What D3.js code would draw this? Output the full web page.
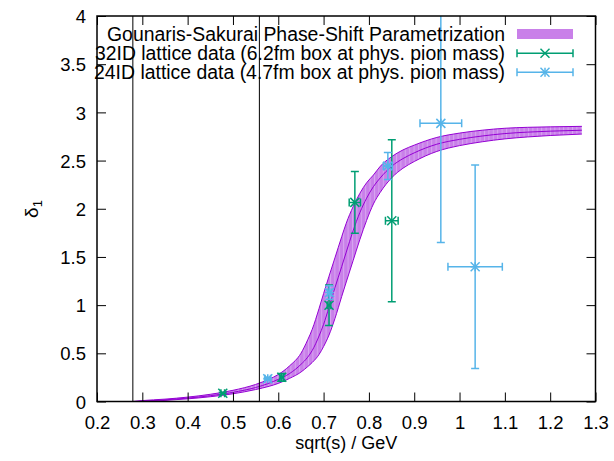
<!DOCTYPE html>
<html><head><meta charset="utf-8">
<script src="https://cdn.jsdelivr.net/npm/d3@7"></script>
<style>html,body{margin:0;padding:0;background:#fff;}svg{display:block;}</style>
</head><body>
<svg id="c" width="614" height="461"></svg>
<script>
// ---- data ----
const bandX     = [0.279,0.30,0.35,0.40,0.45,0.50,0.55,0.58,0.60,0.625,0.65,0.665,0.675,0.69,0.70,0.712,0.725,0.74,0.75,0.765,0.78,0.795,0.81,0.825,0.85,0.875,0.90,0.95,1.00,1.05,1.10,1.15,1.20,1.27];
const bandMid   = [0,0.004,0.017,0.035,0.06,0.095,0.145,0.19,0.23,0.29,0.385,0.46,0.53,0.68,0.80,0.98,1.18,1.40,1.55,1.77,1.96,2.11,2.23,2.32,2.44,2.52,2.58,2.67,2.72,2.755,2.78,2.795,2.805,2.815];
const bandUpper = [0,0.0095,0.0246,0.0455,0.0747,0.116,0.177,0.232,0.28,0.37,0.50,0.64,0.75,0.965,1.12,1.30,1.49,1.71,1.85,2.02,2.16,2.27,2.35,2.44,2.54,2.61,2.66,2.74,2.785,2.815,2.835,2.845,2.85,2.855];
const bandLower = [0,0.0,0.0115,0.0274,0.0495,0.080,0.124,0.158,0.188,0.24,0.305,0.362,0.405,0.488,0.57,0.69,0.86,1.09,1.24,1.46,1.68,1.88,2.05,2.17,2.32,2.42,2.49,2.595,2.655,2.695,2.725,2.745,2.76,2.775];

const d32x  = [0.4775,0.6077,0.712,0.769,0.8505];
const d32y  = [0.085,0.251,0.998,2.066,1.876];
const d32dx = [0.004,0.004,0.004,0.0125,0.014];
const d32dy = [0.012,0.04,0.21,0.32,0.84];

const d24x  = [0.5768,0.713,0.8418,0.9587,1.0344];
const d24y  = [0.237,1.13,2.443,2.886,1.398];
const d24dx = [0.006,0.004,0.01,0.046,0.06];
const d24dy = [0.015,0.07,0.14,1.235,1.056];

const thresholds = [0.2791,0.5583]; // 2 m_pi, 4 m_pi
const xTicks = [0.2,0.3,0.4,0.5,0.6,0.7,0.8,0.9,1.0,1.1,1.2,1.3];
const xTickLabels = ["0.2","0.3","0.4","0.5","0.6","0.7","0.8","0.9","1","1.1","1.2","1.3"];
const yTicks = [0,0.5,1,1.5,2,2.5,3,3.5,4];
const yTickLabels = ["0","0.5","1","1.5","2","2.5","3","3.5","4"];
const legendLabels = ["Gounaris-Sakurai Phase-Shift Parametrization","32ID lattice data (6.2fm box at phys. pion mass)","24ID lattice data (4.7fm box at phys. pion mass)"];

// ---- layout ----
const L=97, R=595.5, T=16, B=401.5;
const FONT = "'Liberation Sans', Arial, Helvetica, sans-serif";
const FS_LEG = 19.5, FS_TICK = 18.5, FS_TITLE = 18;
const cViolet = "#9400d3", cFill = "#c980e9", cGreen = "#009e73", cBlue = "#56b4e9";

const svg = d3.select("#c").style("font-family", FONT);
const x = d3.scaleLinear().domain([0.2,1.3]).range([L,R]);
const y = d3.scaleLinear().domain([0,4]).range([B,T]);

const defs = svg.append("defs");
defs.append("clipPath").attr("id","plotclip").append("rect").attr("x",L).attr("y",T).attr("width",R-L).attr("height",B-T);
const pat = defs.append("pattern").attr("id","stripes").attr("patternUnits","userSpaceOnUse").attr("width",4.4).attr("height",10);
pat.append("rect").attr("width",4.4).attr("height",10).attr("fill",cFill);
pat.append("rect").attr("x",0).attr("width",1).attr("height",10).attr("fill","#d8a6f0");

const band = bandX.map((v,i)=>({x:v,lo:bandLower[i],hi:bandUpper[i],mid:bandMid[i]}));
const g = svg.append("g").attr("clip-path","url(#plotclip)");

// legend (text first so marks pass over it)
const legX = 505, legY = [34,53.3,72.3], legW = [398,410,411];
legendLabels.forEach((t,i)=>{
  svg.append("text").attr("x",legX).attr("y",legY[i]).attr("dy","0.36em")
    .attr("text-anchor","end").attr("font-size",FS_LEG).attr("fill","#000")
    .attr("textLength",legW[i]).attr("lengthAdjust","spacingAndGlyphs").text(t);
});
svg.append("rect").attr("x",517).attr("y",legY[0]-5).attr("width",56).attr("height",10).attr("fill",cFill);

// band
const curve = d3.curveMonotoneX;
g.append("path").datum(band).attr("fill","url(#stripes)")
  .attr("d", d3.area().x(d=>x(d.x)).y0(d=>y(d.lo)).y1(d=>y(d.hi)).curve(curve));
["lo","hi","mid"].forEach(k=>{
  g.append("path").datum(band).attr("fill","none").attr("stroke",cViolet).attr("stroke-width",1)
    .attr("d", d3.line().x(d=>x(d.x)).y(d=>y(d[k])).curve(curve));
});

// data with xy error bars
function errSeries(xs,ys,dxs,dys,color,star){
  const gg = g.append("g").attr("stroke",color).attr("stroke-width",1.5).attr("fill","none");
  const cap = 4;
  xs.forEach((xv,i)=>{
    const cx=x(xv), cy=y(ys[i]);
    const x0=x(xv-dxs[i]), x1=x(xv+dxs[i]);
    const y0=y(ys[i]-dys[i]), y1=y(ys[i]+dys[i]);
    gg.append("line").attr("x1",x0).attr("x2",x1).attr("y1",cy).attr("y2",cy);
    gg.append("line").attr("x1",cx).attr("x2",cx).attr("y1",y0).attr("y2",y1);
    gg.append("line").attr("x1",x0).attr("x2",x0).attr("y1",cy-cap).attr("y2",cy+cap);
    gg.append("line").attr("x1",x1).attr("x2",x1).attr("y1",cy-cap).attr("y2",cy+cap);
    gg.append("line").attr("x1",cx-cap).attr("x2",cx+cap).attr("y1",y0).attr("y2",y0);
    gg.append("line").attr("x1",cx-cap).attr("x2",cx+cap).attr("y1",y1).attr("y2",y1);
    drawPt(gg,cx,cy,star);
  });
}
function drawPt(gg,cx,cy,star){
  const s=4.5;
  gg.append("line").attr("x1",cx-s).attr("x2",cx+s).attr("y1",cy-s).attr("y2",cy+s);
  gg.append("line").attr("x1",cx-s).attr("x2",cx+s).attr("y1",cy+s).attr("y2",cy-s);
  if(star){
    gg.append("line").attr("x1",cx-s).attr("x2",cx+s).attr("y1",cy).attr("y2",cy);
    gg.append("line").attr("x1",cx).attr("x2",cx).attr("y1",cy-s).attr("y2",cy+s);
  }
}
errSeries(d32x,d32y,d32dx,d32dy,cGreen,false);
errSeries(d24x,d24y,d24dx,d24dy,cBlue,true);

// legend samples for error series
[[cGreen,false,legY[1]],[cBlue,true,legY[2]]].forEach(([c,st,ly])=>{
  const gg = svg.append("g").attr("stroke",c).attr("stroke-width",1.5);
  gg.append("line").attr("x1",517).attr("x2",573).attr("y1",ly).attr("y2",ly);
  gg.append("line").attr("x1",517).attr("x2",517).attr("y1",ly-4).attr("y2",ly+4);
  gg.append("line").attr("x1",573).attr("x2",573).attr("y1",ly-4).attr("y2",ly+4);
  drawPt(gg,545,ly,st);
});

// threshold lines
thresholds.forEach(t=>{
  svg.append("line").attr("x1",x(t)).attr("x2",x(t)).attr("y1",T).attr("y2",B)
    .attr("stroke","#000").attr("stroke-width",1);
});

// axes (inward ticks, mirrored)
const tk = 9;
const xb = svg.append("g").attr("transform",`translate(0,${B})`)
  .call(d3.axisBottom(x).tickValues(xTicks).tickFormat((d,i)=>xTickLabels[i]).tickSizeInner(-tk).tickSizeOuter(0));
const xt = svg.append("g").attr("transform",`translate(0,${T})`)
  .call(d3.axisTop(x).tickValues(xTicks).tickFormat("").tickSizeInner(-tk).tickSizeOuter(0));
const yl = svg.append("g").attr("transform",`translate(${L},0)`)
  .call(d3.axisLeft(y).tickValues(yTicks).tickFormat((d,i)=>yTickLabels[i]).tickSizeInner(-tk).tickSizeOuter(0));
const yr = svg.append("g").attr("transform",`translate(${R},0)`)
  .call(d3.axisRight(y).tickValues(yTicks).tickFormat("").tickSizeInner(-tk).tickSizeOuter(0));
[xb,xt,yl,yr].forEach(a=>{
  a.select(".domain").remove();
  a.selectAll(".tick line").attr("stroke","#000").attr("stroke-width",1);
  a.selectAll("text").attr("font-size",FS_TICK).attr("font-family",FONT).attr("fill","#000");
});
xb.selectAll("text").attr("dy","0.36em").attr("y",21);
yl.selectAll("text").attr("x",-11).attr("dy","0.36em");

svg.append("rect").attr("x",L).attr("y",T).attr("width",R-L).attr("height",B-T)
  .attr("fill","none").attr("stroke","#000").attr("stroke-width",1.5);

// axis titles
svg.append("text").attr("x",(L+R)/2).attr("y",443).attr("dy","0.36em").attr("text-anchor","middle")
  .attr("font-size",FS_TITLE).text("sqrt(s) / GeV");
const yt = svg.append("text").attr("transform","translate(31,209) rotate(-90)").attr("text-anchor","middle")
  .attr("dy","0.36em").attr("font-size",FS_TITLE+1);
yt.append("tspan").text("δ");
yt.append("tspan").attr("font-size",13).attr("dy","0.3em").text("1");
</script>
</body></html>
